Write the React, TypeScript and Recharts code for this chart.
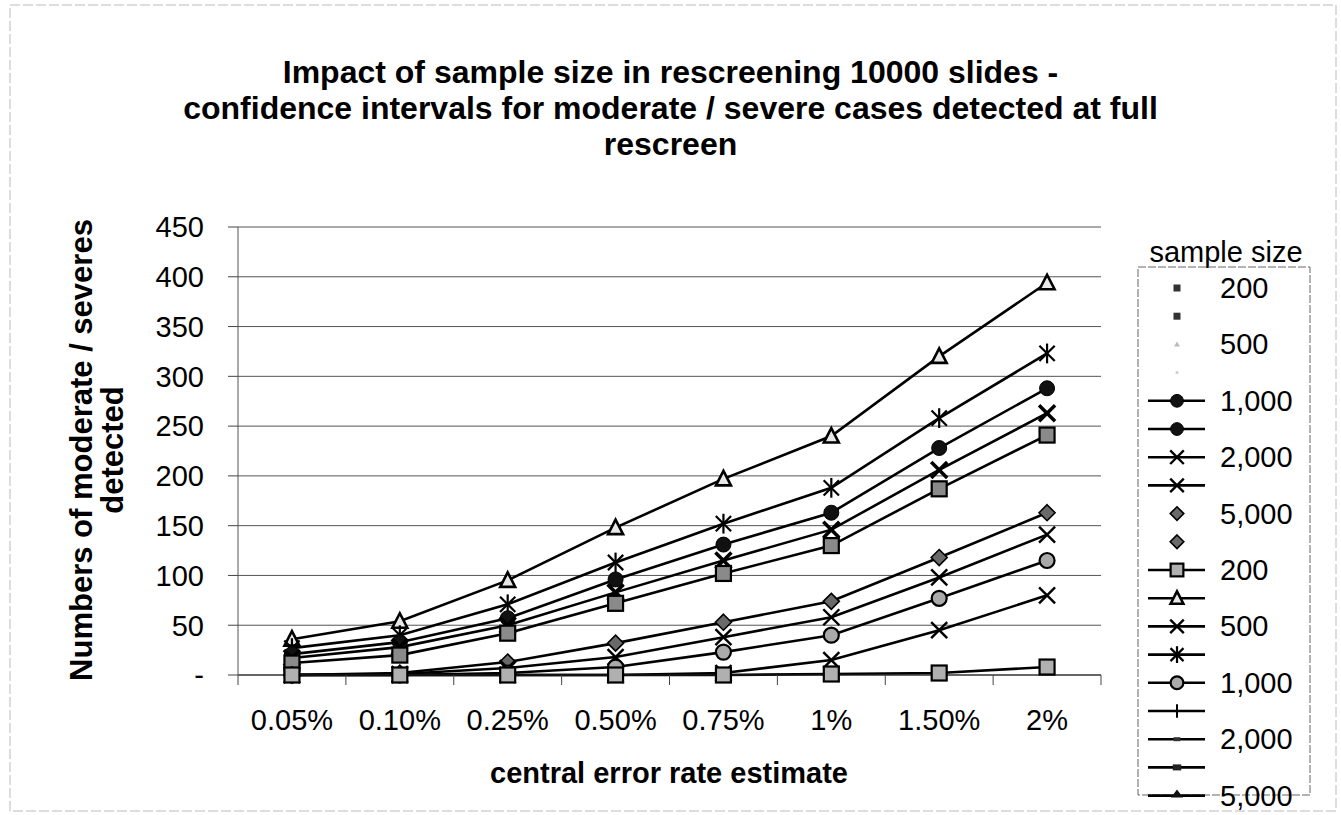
import React from 'react';
import { LineChart, Line, XAxis, YAxis, CartesianGrid } from 'recharts';

const FONT = '"Liberation Sans", Arial, Helvetica, sans-serif';

const categories = ['0.05%', '0.10%', '0.25%', '0.50%', '0.75%', '1%', '1.50%', '2%'];

// upper confidence limits
const upper200 = [36, 54, 95, 148, 197, 240, 320, 394];
const upper500 = [27, 40, 71, 113, 152, 188, 258, 323];
const upper1000 = [21, 33, 57, 96, 131, 163, 228, 288];
const upper2000 = [17, 28, 50, 83, 115, 146, 206, 263];
const upper5000 = [12, 20, 42, 72, 102, 130, 187, 241];
// lower confidence limits
const lower5000 = [0, 2, 13, 32, 53, 74, 118, 163];
const lower2000 = [0, 1, 7, 18, 38, 58, 98, 141];
const lower1000 = [0, 0, 2, 8, 23, 40, 77, 115];
const lower500 = [0, 0, 0, 0, 2, 15, 45, 80];
const lower200 = [0, 0, 0, 0, 0, 1, 2, 8];

const yTicks = [0, 50, 100, 150, 200, 250, 300, 350, 400, 450];

const legendLabels = ['200', '', '500', '', '1,000', '', '2,000', '', '5,000', '', '200', '', '500', '', '1,000', '', '2,000', '', '5,000'];
const legendMarkers = ['smallSquare', 'smallSquare', 'tinyTriangle', 'tinyDot', 'dot', 'dot', 'x', 'x', 'diamond', 'diamond', 'square', 'triangle', 'x', 'asterisk', 'circle', 'plus', 'dashThin', 'dashThick', 'smallTriangle'];
const legendLines = [false, false, false, false, true, true, true, true, false, false, true, true, true, true, true, true, true, true, true];

const series = [
  { key: 'u200', values: upper200, marker: 'triangle' },
  { key: 'u500', values: upper500, marker: 'asterisk' },
  { key: 'u1000', values: upper1000, marker: 'dot' },
  { key: 'u2000', values: upper2000, marker: 'boldx' },
  { key: 'u5000', values: upper5000, marker: 'squareDark' },
  { key: 'l5000', values: lower5000, marker: 'diamond' },
  { key: 'l2000', values: lower2000, marker: 'x' },
  { key: 'l1000', values: lower1000, marker: 'circle' },
  { key: 'l500', values: lower500, marker: 'x' },
  { key: 'l200', values: lower200, marker: 'square' },
];

const data = categories.map((c, i) => {
  const row: any = { cat: c };
  series.forEach((s) => (row[s.key] = s.values[i]));
  return row;
});

const W = 1341;
const H = 815;
const PLOT_LEFT = 238;
const PLOT_RIGHT = 1101;
const PLOT_TOP = 227;
const PLOT_BOTTOM = 675;
const BAND = (PLOT_RIGHT - PLOT_LEFT) / categories.length;

function Marker({ kind, cx, cy, s = 1 }: { kind: string; cx: number; cy: number; s?: number }) {
  if (cx == null || cy == null || isNaN(cx) || isNaN(cy)) return null;
  switch (kind) {
    case 'triangle':
      return (
        <path
          d={`M${cx},${cy - 8 * s} L${cx + 7.5 * s},${cy + 6.5 * s} L${cx - 7.5 * s},${cy + 6.5 * s} Z`}
          fill="#e8e8e8"
          stroke="#000"
          strokeWidth={2.6}
        />
      );
    case 'asterisk': {
      const r = 9 * s;
      return (
        <g stroke="#000" strokeWidth={2.2}>
          <line x1={cx - r * 0.85} y1={cy - r * 0.85} x2={cx + r * 0.85} y2={cy + r * 0.85} />
          <line x1={cx - r * 0.85} y1={cy + r * 0.85} x2={cx + r * 0.85} y2={cy - r * 0.85} />
          <line x1={cx} y1={cy - r * 1.1} x2={cx} y2={cy + r * 1.1} />
        </g>
      );
    }
    case 'dot':
      return <circle cx={cx} cy={cy} r={7.5 * s} fill="#111" stroke="#000" strokeWidth={1} />;
    case 'boldx': {
      const r = 8 * s;
      return (
        <g stroke="#000" strokeWidth={3.6}>
          <line x1={cx - r} y1={cy - r} x2={cx + r} y2={cy + r} />
          <line x1={cx - r} y1={cy + r} x2={cx + r} y2={cy - r} />
        </g>
      );
    }
    case 'x': {
      const r = 8 * s;
      return (
        <g stroke="#000" strokeWidth={2.4}>
          <line x1={cx - r} y1={cy - r} x2={cx + r} y2={cy + r} />
          <line x1={cx - r} y1={cy + r} x2={cx + r} y2={cy - r} />
        </g>
      );
    }
    case 'squareDark':
      return <rect x={cx - 7.5 * s} y={cy - 7.5 * s} width={15 * s} height={15 * s} fill="#8a8a8a" stroke="#000" strokeWidth={2.2} />;
    case 'square':
      return <rect x={cx - 7.5 * s} y={cy - 7.5 * s} width={15 * s} height={15 * s} fill="#b0b0b0" stroke="#000" strokeWidth={2.2} />;
    case 'diamond': {
      const r = 8 * s;
      return <path d={`M${cx},${cy - r} L${cx + r},${cy} L${cx},${cy + r} L${cx - r},${cy} Z`} fill="#6a6a6a" stroke="#000" strokeWidth={1.6} />;
    }
    case 'circle':
      return <circle cx={cx} cy={cy} r={7.5 * s} fill="#aaa" stroke="#000" strokeWidth={2.2} />;
    case 'plus':
      return (
        <g stroke="#000" strokeWidth={2}>
          <line x1={cx} y1={cy - 8 * s} x2={cx} y2={cy + 8 * s} />
        </g>
      );
    case 'dashThin':
      return <rect x={cx - 4 * s} y={cy - 2} width={8 * s} height={4} fill="#333" />;
    case 'dashThick':
      return <rect x={cx - 5 * s} y={cy - 3} width={10 * s} height={6} fill="#222" />;
    case 'smallTriangle':
      return <path d={`M${cx},${cy - 6} L${cx + 6},${cy + 2} L${cx - 6},${cy + 2} Z`} fill="#111" />;
    case 'smallSquare':
      return <rect x={cx - 3.5} y={cy - 3.5} width={7} height={7} fill="#333" />;
    case 'tinyTriangle':
      return <path d={`M${cx},${cy - 3} L${cx + 3},${cy + 2} L${cx - 3},${cy + 2} Z`} fill="#bbb" />;
    case 'tinyDot':
      return <circle cx={cx} cy={cy} r={1.5} fill="#ccc" />;
    default:
      return null;
  }
}

const XTick = (props: any) => {
  const { x, y, payload, index } = props;
  const isLast = index === categories.length - 1;
  return (
    <g>
      <line x1={x - BAND / 2} y1={y} x2={x - BAND / 2} y2={y + 10} stroke="#444" strokeWidth={1} />
      {isLast && <line x1={x + BAND / 2} y1={y} x2={x + BAND / 2} y2={y + 10} stroke="#444" strokeWidth={1} />}
      <text x={x} y={y + 55} textAnchor="middle" fontSize={29} fontFamily={FONT} fill="#000">
        {payload.value}
      </text>
    </g>
  );
};

function LegendBox() {
  const top0 = 288;
  const step = 28.2;
  return (
    <g>
      <text x={1226} y={262} textAnchor="middle" fontSize={29} fontFamily={FONT} fill="#000">
        sample size
      </text>
      <rect x={1138} y={267} width={172} height={528} fill="none" stroke="#666" strokeWidth={1} strokeDasharray="8 2" />
      {legendLabels.map((lab, i) => {
        const cy = top0 + i * step;
        return (
          <g key={i}>
            {legendLines[i] && <line x1={1148} y1={cy} x2={1205} y2={cy} stroke="#000" strokeWidth={2.6} />}
            <Marker kind={legendMarkers[i]} cx={1177} cy={cy} s={0.85} />
            {lab && (
              <text x={1220} y={cy + 10} fontSize={29} fontFamily={FONT} fill="#000">
                {lab}
              </text>
            )}
          </g>
        );
      })}
    </g>
  );
}

export default function App() {
  return (
    <div style={{ position: 'absolute', left: 0, top: 0, width: W, height: H, background: '#fff', fontFamily: FONT }}>
      <div
        style={{
          position: 'absolute',
          left: 0,
          top: 54,
          width: W,
          textAlign: 'center',
          fontWeight: 'bold',
          fontSize: 32,
          lineHeight: '36px',
          color: '#000',
        }}
      >
        <div>Impact of sample size in rescreening 10000 slides -</div>
        <div>confidence intervals for moderate / severe cases detected at full</div>
        <div>rescreen</div>
      </div>
      <div style={{ position: 'absolute', left: 0, top: 0 }}>
        <LineChart
          width={W}
          height={H}
          data={data}
          margin={{ top: PLOT_TOP, right: W - PLOT_RIGHT, bottom: 80, left: PLOT_LEFT - 120 }}
        >
          <CartesianGrid vertical={false} stroke="#555" strokeWidth={1} />
          <XAxis
            dataKey="cat"
            height={H - PLOT_BOTTOM - 80}
            tick={<XTick />}
            tickLine={false}
            tickSize={0}
            tickMargin={0}
            padding={{ left: BAND / 2, right: BAND / 2 }}
            axisLine={{ stroke: '#222', strokeWidth: 1.2 }}
            interval={0}
          />
          <YAxis
            width={120}
            domain={[0, 450]}
            ticks={yTicks}
            interval={0}
            tickSize={10}
            tickMargin={24}
            tickLine={{ stroke: '#444' }}
            axisLine={{ stroke: '#555', strokeWidth: 1 }}
            tickFormatter={(v: number) => (v === 0 ? '-' : String(v))}
            tick={{ fontSize: 29, fill: '#000', fontFamily: FONT }}
          />
          {series.map((s) => (
            <Line
              key={s.key}
              dataKey={s.key}
              stroke="#000"
              strokeWidth={2.6}
              isAnimationActive={false}
              dot={(p: any) => <Marker key={`${s.key}-${p.index}`} kind={s.marker} cx={p.cx} cy={p.cy} />}
              activeDot={false}
            />
          ))}
        </LineChart>
      </div>
      <svg width={W} height={H} style={{ position: 'absolute', left: 0, top: 0, pointerEvents: 'none' }}>
        <rect x={10} y={5} width={1326} height={806} fill="none" stroke="#bbb" strokeWidth={1} strokeDasharray="10 3" />
        <text
          transform="translate(92,450) rotate(-90)"
          textAnchor="middle"
          fontSize={31}
          fontWeight="bold"
          fontFamily={FONT}
          fill="#000"
        >
          Numbers of moderate / severes
        </text>
        <text
          transform="translate(123,450) rotate(-90)"
          textAnchor="middle"
          fontSize={31}
          fontWeight="bold"
          fontFamily={FONT}
          fill="#000"
        >
          detected
        </text>
        <text x={669} y={783} textAnchor="middle" fontSize={29} fontWeight="bold" fontFamily={FONT} fill="#000">
          central error rate estimate
        </text>
        <LegendBox />
      </svg>
    </div>
  );
}
